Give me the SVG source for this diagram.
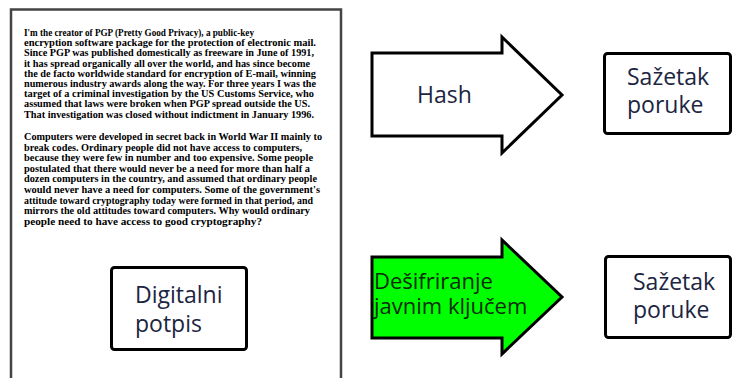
<svg xmlns="http://www.w3.org/2000/svg" width="733" height="378" viewBox="0 0 733 378">
<style>
.doc{font-family:"Liberation Serif",serif;font-size:10px;font-weight:bold;fill:#000}
.lbl{font-family:"Open Sans","Noto Sans",sans-serif;font-size:23px;fill:#1c2541}
.box{fill:#fff;stroke:#000;stroke-width:3}
.arrow{stroke:#000;stroke-width:3;stroke-linejoin:miter}
</style>
<g id="document">
<path d="M11,378 V9.5 H341 V378" fill="#fff" stroke="#444" stroke-width="2.5"/>
<text class="doc">
<tspan x="24" y="36" textLength="230" lengthAdjust="spacingAndGlyphs">I'm the creator of PGP (Pretty Good Privacy), a public-key</tspan>
<tspan x="24" y="46.2" textLength="292" lengthAdjust="spacingAndGlyphs">encryption software package for the protection of electronic mail.</tspan>
<tspan x="24" y="56.4" textLength="290" lengthAdjust="spacingAndGlyphs">Since PGP was published domestically as freeware in June of 1991,</tspan>
<tspan x="24" y="66.6" textLength="286" lengthAdjust="spacingAndGlyphs">it has spread organically all over the world, and has since become</tspan>
<tspan x="24" y="76.8" textLength="292" lengthAdjust="spacingAndGlyphs">the de facto worldwide standard for encryption of E-mail, winning</tspan>
<tspan x="24" y="87" textLength="292" lengthAdjust="spacingAndGlyphs">numerous industry awards along the way. For three years I was the</tspan>
<tspan x="24" y="97.2" textLength="290" lengthAdjust="spacingAndGlyphs">target of a criminal investigation by the US Customs Service, who</tspan>
<tspan x="24" y="107.4" textLength="286" lengthAdjust="spacingAndGlyphs">assumed that laws were broken when PGP spread outside the US.</tspan>
<tspan x="24" y="117.6" textLength="290" lengthAdjust="spacingAndGlyphs">That investigation was closed without indictment in January 1996.</tspan>
</text>
<text class="doc">
<tspan x="24" y="140" textLength="298" lengthAdjust="spacingAndGlyphs">Computers were developed in secret back in World War II mainly to</tspan>
<tspan x="24" y="150.6" textLength="278" lengthAdjust="spacingAndGlyphs">break codes. Ordinary people did not have access to computers,</tspan>
<tspan x="24" y="161.2" textLength="289" lengthAdjust="spacingAndGlyphs">because they were few in number and too expensive. Some people</tspan>
<tspan x="24" y="171.8" textLength="286" lengthAdjust="spacingAndGlyphs">postulated that there would never be a need for more than half a</tspan>
<tspan x="24" y="182.4" textLength="293" lengthAdjust="spacingAndGlyphs">dozen computers in the country, and assumed that ordinary people</tspan>
<tspan x="24" y="193" textLength="296" lengthAdjust="spacingAndGlyphs">would never have a need for computers. Some of the government's</tspan>
<tspan x="24" y="203.6" textLength="289" lengthAdjust="spacingAndGlyphs">attitude toward cryptography today were formed in that period, and</tspan>
<tspan x="24" y="214.2" textLength="286" lengthAdjust="spacingAndGlyphs">mirrors the old attitudes toward computers. Why would ordinary</tspan>
<tspan x="24" y="224.8" textLength="238" lengthAdjust="spacingAndGlyphs">people need to have access to good cryptography?</tspan>
</text>
</g>
<g id="digitalni-potpis">
<rect class="box" x="111.5" y="267.5" width="135" height="82" rx="3"/>
<text class="lbl"><tspan x="135" y="303">Digitalni</tspan><tspan x="135" y="332">potpis</tspan></text>
</g>
<g id="connectors">
<g id="hash-arrow">
<path class="arrow" fill="#fff" d="M372,53 H502 V37 L562,95 L502,153 V136 H372 Z"/>
<text class="lbl" x="417" y="103">Hash</text>
</g>
<g id="desifriranje-arrow">
<path class="arrow" fill="#00ff00" d="M372,257 H502 V240 L562,297 L502,354 V338 H372 Z"/>
<text class="lbl" style="fill:#0c2a0c;font-size:22px"><tspan x="374" y="289">Dešifriranje</tspan><tspan x="374" y="314">javnim ključem</tspan></text>
</g>
</g>
<g id="sazetak-1">
<rect class="box" x="604.5" y="53.5" width="126" height="80" rx="3"/>
<text class="lbl"><tspan x="627" y="85">Sažetak</tspan><tspan x="627" y="113">poruke</tspan></text>
</g>
<g id="sazetak-2">
<rect class="box" x="605.5" y="256.5" width="125" height="81" rx="3"/>
<text class="lbl"><tspan x="633" y="290">Sažetak</tspan><tspan x="633" y="318">poruke</tspan></text>
</g>
</svg>
